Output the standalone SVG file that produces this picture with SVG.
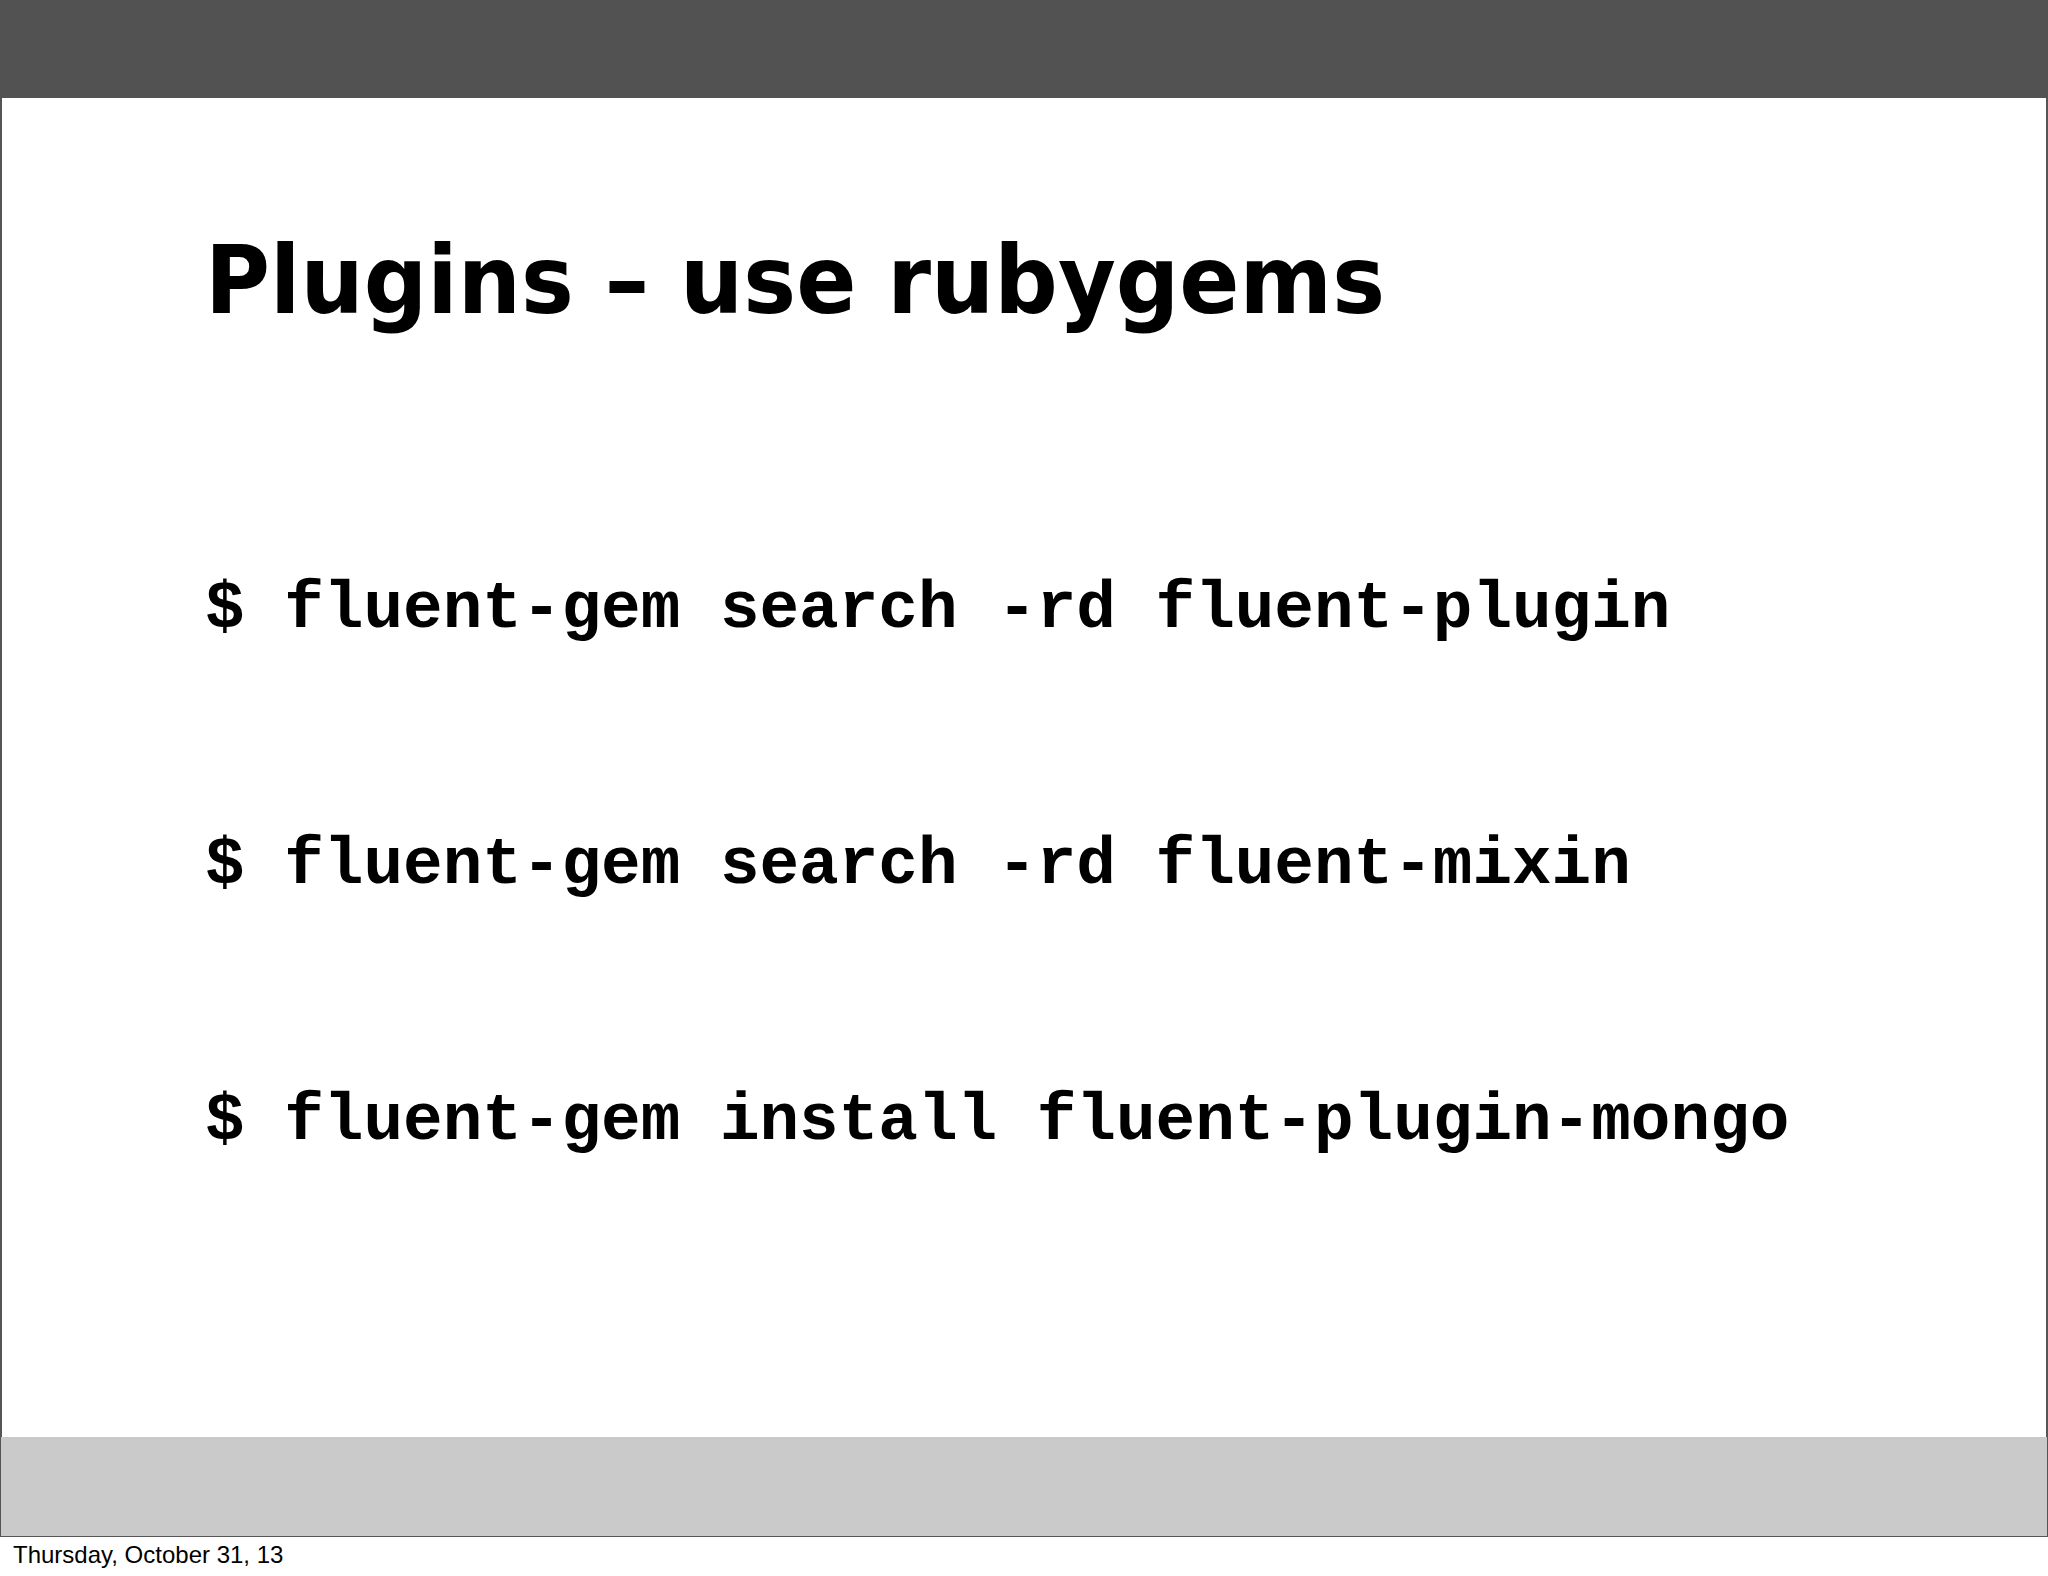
<svg xmlns="http://www.w3.org/2000/svg" width="2048" height="1576" viewBox="0 0 2048 1576">
<style>
.code{font-family:"Liberation Mono",monospace;font-weight:bold;font-size:66px;fill:#000}
</style>
<rect width="2048" height="1576" fill="#fff"/>
<rect x="1" y="0" width="2046" height="1536" fill="#fff" stroke="#555" stroke-width="2"/>
<rect x="0" y="0" width="2048" height="98" fill="#525252"/>
<rect x="1" y="1437" width="2046" height="99" fill="#cacaca"/>
<text x="205" y="313" font-family="DejaVu Sans, sans-serif" font-weight="bold" font-size="94" textLength="1180" lengthAdjust="spacingAndGlyphs">Plugins – use rubygems</text>
<text class="code" x="205" y="627">$ fluent-gem search -rd fluent-plugin</text>
<text class="code" x="205" y="883">$ fluent-gem search -rd fluent-mixin</text>
<text class="code" x="205" y="1139">$ fluent-gem install fluent-plugin-mongo</text>
<text x="13" y="1563" font-family="Liberation Sans, sans-serif" font-size="24">Thursday, October 31, 13</text>
</svg>
